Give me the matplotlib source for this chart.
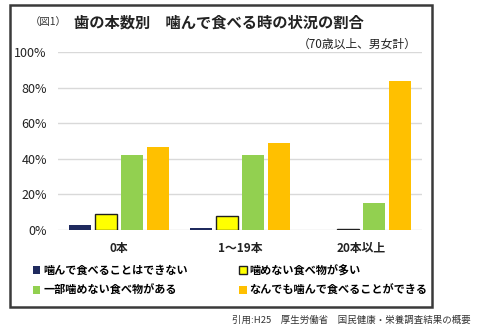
import matplotlib
matplotlib.use('Agg')
import matplotlib.pyplot as plt
from matplotlib.patches import Rectangle
import numpy as np

plt.rcParams['font.family'] = ['Noto Sans CJK JP', 'DejaVu Sans']

categories = ['0本', '1～19本', '20本以上']
series = ['噛んで食べることはできない', '噛めない食べ物が多い',
          '一部噛めない食べ物がある', 'なんでも噛んで食べることができる']
cannot = [2.5, 0.8, 0.0]
many_hard = [8.8, 7.7, 0.2]
some_hard = [41.8, 42.2, 15.1]
anything = [46.5, 48.7, 83.9]
yticks = [0, 20, 40, 60, 80, 100]

colors = ['#1F2A5E', '#FFFF00', '#92D050', '#FFC000']
edges = ['none', '#202020', 'none', 'none']

fig = plt.figure(figsize=(4.8, 3.33), dpi=100)
ax = fig.add_axes([0.1208, 0.3102, 0.7583, 0.5336])

x = np.arange(len(categories))
w = 0.18
step = 0.214
handles = []
for i, vals in enumerate([cannot, many_hard, some_hard, anything]):
    off = (i - 1.5) * step
    b = ax.bar(x + off, vals, width=w, color=colors[i],
               edgecolor=edges[i], linewidth=1.0 if edges[i] != 'none' else 0,
               label=series[i], zorder=3)
    handles.append(b)

ax.set_xlim(-0.5, 2.5)
ax.set_ylim(0, 100)
ax.set_yticks(yticks)
ax.set_yticklabels([f'{t}%' for t in yticks], fontsize=9, color='#222222')
ax.set_xticks(x)
ax.set_xticklabels(categories, fontsize=8.5, fontweight='bold', color='#222222')
ax.tick_params(axis='both', length=0)
ax.tick_params(axis='y', pad=8)
ax.tick_params(axis='x', pad=9)
ax.grid(axis='y', color='#D9D9D9', linewidth=1.0, zorder=0)
for s in ax.spines.values():
    s.set_visible(False)

# row-major order like the original legend
order = [0, 2, 1, 3]
leg = fig.legend(handles=[handles[k] for k in order],
                 labels=[series[k] for k in order], ncol=2,
                 loc='upper left', bbox_to_anchor=(0.068, 0.207),
                 frameon=False, prop={'weight': 'bold', 'size': 8},
                 handlelength=0.7, handleheight=0.7, handletextpad=0.25,
                 columnspacing=4.6, labelspacing=0.6, borderpad=0,
                 borderaxespad=0)

# titles
fig.text(0.062, 0.933, '（図1）', fontsize=7.5, color='#333333', va='center')
fig.text(0.155, 0.933, '歯の本数別　噛んで食べる時の状況の割合',
         fontsize=11, fontweight='bold', color='#222222', va='center')
fig.text(0.868, 0.868, '（70歳以上、男女計）', fontsize=8.5, color='#222222',
         va='center', ha='right')

# outer frame
fig.patches.append(Rectangle((0.021, 0.078), 0.879, 0.907,
                             transform=fig.transFigure, fill=False,
                             edgecolor='#3A3A3A', linewidth=1.8))

fig.text(0.98, 0.038, '引用:H25　厚生労働省　国民健康・栄養調査結果の概要',
         fontsize=6.8, color='#333333', ha='right', va='center')

fig.savefig('out.png', dpi=100, facecolor='white')
